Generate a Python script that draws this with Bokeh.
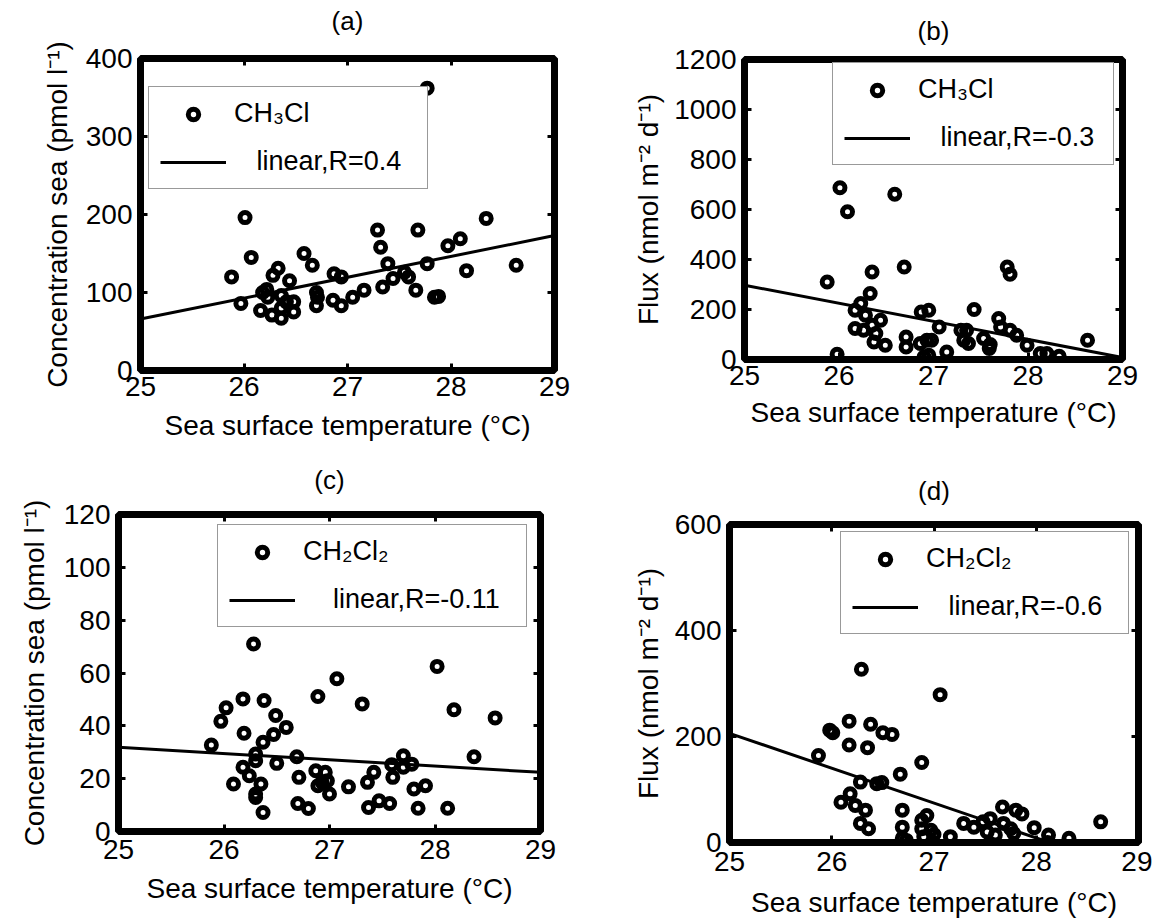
from bokeh.plotting import figure
from bokeh.models import (Range1d, LinearAxis, FixedTicker, CustomJSTickFormatter,
                          Legend, LegendItem)
from bokeh.layouts import column, row
from bokeh.embed import file_html
from bokeh.resources import INLINE

FONT = "Liberation Sans"

# ---------------- data ----------------
x_ticks = [25, 26, 27, 28, 29]
x_label = "Sea surface temperature (°C)"

sst_a = [27.77, 26.01, 25.88, 26.07, 25.97, 26.33, 26.28, 26.44, 26.18, 26.23,
         26.16, 26.27, 26.36, 26.36, 26.48, 26.48, 26.36, 26.41, 26.22, 26.58,
         26.66, 26.70, 26.70, 26.71, 26.87, 26.94, 26.86, 26.94, 27.05, 27.16,
         27.29, 27.32, 27.39, 27.34, 27.44, 27.55, 27.59, 27.68, 27.66, 27.77,
         27.84, 27.88, 27.97, 28.09, 28.15, 28.34, 28.63]
conc_a = [362, 196, 120, 145, 86, 131, 122, 115, 100, 94,
          77, 71, 67, 80, 88, 75, 96, 88, 104, 150,
          135, 100, 83, 94, 124, 120, 90, 83, 94, 103,
          180, 158, 137, 107, 118, 126, 120, 180, 103, 137,
          94, 95, 160, 169, 128, 195, 135]

sst_b = [26.01, 26.09, 26.59, 25.875, 26.35, 26.69, 27.78, 27.81, 26.33, 26.23,
         26.17, 26.28, 26.44, 26.17, 26.26, 26.35, 26.37, 26.49, 25.98, 26.87,
         26.95, 27.06, 26.71, 26.71, 26.86, 26.93, 26.98, 26.90, 27.14, 27.29,
         27.35, 27.32, 27.43, 27.53, 27.59, 27.69, 27.71, 27.81, 27.88, 27.99,
         28.13, 28.33, 28.63, 26.95, 28.20, 26.39, 27.60, 27.37]
flux_b = [687, 591, 661, 310, 350, 370, 370, 341, 264, 224,
          197, 177, 157, 124, 117, 137, 70, 57, 21, 190,
          197, 130, 90, 50, 64, 77, 77, 10, 30, 117,
          117, 77, 200, 84, 44, 164, 130, 117, 97, 57,
          24, 13, 77, 17, 24, 104, 60, 64]

sst_c = [26.28, 28.02, 27.07, 26.89, 26.18, 26.38, 27.31, 28.18, 26.02, 25.97,
         26.49, 28.57, 26.59, 26.47, 26.19, 26.37, 25.88, 28.37, 26.30, 26.69,
         27.70, 26.50, 26.18, 26.30, 27.59, 27.78, 27.42, 27.70, 26.87, 26.96,
         26.24, 26.71, 27.60, 27.36, 26.35, 26.09, 26.93, 26.89, 26.98, 27.18,
         27.80, 27.91, 26.30, 27.00, 26.30, 26.70, 26.80, 27.37, 27.47, 27.57,
         27.84, 28.12, 26.37]
conc_c = [71.0, 62.5, 57.8, 51.1, 50.2, 49.6, 48.3, 46.1, 46.8, 41.7,
          43.9, 43.0, 39.4, 36.7, 37.2, 33.8, 32.7, 28.3, 29.3, 28.3,
          28.7, 25.8, 24.3, 26.8, 25.3, 25.5, 22.4, 24.3, 23.0, 22.4,
          21.1, 20.5, 20.5, 18.6, 18.0, 18.0, 18.6, 17.3, 19.2, 16.9,
          16.1, 17.3, 14.2, 14.2, 12.9, 10.6, 8.7, 9.1, 11.6, 10.6,
          8.8, 8.8, 7.2]

sst_d = [26.29, 27.06, 26.17, 26.38, 25.98, 26.01, 26.50, 26.59, 26.17, 26.35,
         25.87, 26.88, 26.67, 26.28, 26.44, 26.49, 26.18, 26.09, 26.23, 26.33,
         26.28, 26.36, 26.69, 26.69, 26.69, 26.88, 26.93, 26.88, 26.97, 26.90,
         27.16, 27.29, 27.39, 27.55, 27.67, 27.80, 27.86, 27.68, 27.75, 27.52,
         27.98, 28.12, 28.32, 28.11, 28.63, 27.60, 27.48, 27.78, 26.73, 27.00]
flux_d = [327, 279, 229, 223, 212, 207, 207, 204, 184, 179,
          164, 151, 129, 114, 111, 113, 92, 76, 70, 61,
          36, 26, 61, 29, 8, 42, 51, 26, 23, 11,
          11, 36, 29, 45, 67, 61, 54, 36, 26, 20,
          28, 14, 8, 0, 39, 14, 39, 17, 4, 15]

# linear fits (end points)
fit_x = [25, 29]
fit_a = [66, 173]
fit_b = [297, 8]
fit_c = [31.9, 22.4]
fit_x_d = [25, 28.13]
fit_d = [206, 0]

ticks_a = [0, 100, 200, 300, 400]
ticks_b = [0, 200, 400, 600, 800, 1000, 1200]
ticks_c = [0, 20, 40, 60, 80, 100, 120]
ticks_d = [0, 200, 400, 600]

ylab_conc = "Concentration sea (pmol l⁻¹)"
ylab_flux = "Flux (nmol m⁻² d⁻¹)"
NB = "\u00a0"


def style_axis(ax, ticks, standoff):
    ax.ticker = FixedTicker(ticks=ticks)
    ax.axis_line_color = None
    ax.major_tick_in = 7
    ax.major_tick_out = 0
    ax.major_tick_line_width = 3
    ax.major_tick_line_color = "black"
    ax.minor_tick_line_color = None
    ax.major_label_text_font = FONT
    ax.major_label_text_font_size = "28px"
    ax.major_label_text_color = "black"
    ax.major_label_standoff = standoff
    ax.axis_label_text_font = FONT
    ax.axis_label_text_font_size = "28px"
    ax.axis_label_text_font_style = "normal"
    ax.axis_label_text_color = "black"


def blank_axis(ticks):
    ax = LinearAxis(ticker=FixedTicker(ticks=ticks),
                    formatter=CustomJSTickFormatter(code="return ''"))
    ax.axis_line_color = None
    ax.major_tick_in = 7
    ax.major_tick_out = 0
    ax.major_tick_line_width = 3
    ax.minor_tick_line_color = None
    ax.major_label_standoff = 0
    return ax


def panel(title, xs, ys, fx, fy, y_end, y_ticks, ylabel, species, fit_label,
          borders, leg_loc, ylab_standoff, xlab_standoff, xtick_standoff, title_gap):
    left, right, top, bottom = borders
    p = figure(width=576, height=460, output_backend="svg", toolbar_location=None,
               x_range=Range1d(25, 29), y_range=Range1d(0, y_end),
               min_border_left=left, min_border_right=right,
               min_border_top=top, min_border_bottom=bottom)
    p.frame_align = False
    p.xgrid.visible = False
    p.ygrid.visible = False
    p.outline_line_color = "black"
    p.outline_line_width = 7
    p.outline_line_alpha = 1
    p.background_fill_color = "white"
    p.border_fill_color = "white"

    style_axis(p.xaxis[0], x_ticks, xtick_standoff)
    p.xaxis[0].axis_label = x_label
    p.xaxis[0].axis_label_standoff = xlab_standoff
    style_axis(p.yaxis[0], y_ticks, 8)
    p.yaxis[0].axis_label = ylabel
    p.yaxis[0].axis_label_standoff = ylab_standoff

    # top axis: inward ticks only, its label carries the panel title
    top_ax = blank_axis(x_ticks)
    top_ax.axis_label = title
    top_ax.axis_label_standoff = title_gap
    top_ax.axis_label_text_font = FONT
    top_ax.axis_label_text_font_size = "26px"
    top_ax.axis_label_text_font_style = "normal"
    top_ax.axis_label_text_color = "black"
    p.add_layout(top_ax, "above")
    p.add_layout(blank_axis(y_ticks), "right")

    r_fit = p.line(fx, fy, line_width=3, line_color="black")
    r_pts = p.scatter(xs, ys, marker="circle", size=10, line_width=5,
                      line_color="black", fill_color=None)

    leg = Legend(items=[LegendItem(label=species, renderers=[r_pts]),
                        LegendItem(label=fit_label, renderers=[r_fit])],
                 location=leg_loc, margin=0, padding=11, spacing=17,
                 glyph_width=66, glyph_height=26, label_height=30,
                 label_standoff=8, label_text_font=FONT,
                 label_text_font_size="27px", label_text_color="black",
                 border_line_color="#333333", border_line_width=1,
                 background_fill_color="white", background_fill_alpha=1)
    p.add_layout(leg)
    return p


pa = panel("(a)", sst_a, conc_a, fit_x, fit_a, 400, ticks_a, ylab_conc,
           "CH₃Cl", NB * 3 + "linear,R=0.4" + NB * 2,
           (140, 22, 58, 90), (8, 181), 10, 11, 6, 23)
pb = panel("(b)", sst_b, flux_b, fit_x, fit_b, 1200, ticks_b, ylab_flux,
           "CH₃Cl", NB * 3 + "linear,R=-0.3" + NB,
           (168, 30, 59, 101), (88, 194), 7, 9, 6, 14)
pc = panel("(c)", sst_c, conc_c, fit_x, fit_c, 120, ticks_c, ylab_conc,
           "CH₂Cl₂", NB * 4 + "linear,R=-0.11" + NB * 2,
           (118, 36, 54, 89), (99, 204), 11, 11, 8, 20)
pd = panel("(d)", sst_d, flux_d, fit_x_d, fit_d, 600, ticks_d, ylab_flux,
           "CH₂Cl₂", NB * 3 + "linear,R=-0.6" + NB * 2,
           (153, 14, 64, 76), (111, 208), 8, 13, 9, 19)

layout = column(row(pa, pb), row(pc, pd))

open("out.html", "w").write(file_html(layout, INLINE))
